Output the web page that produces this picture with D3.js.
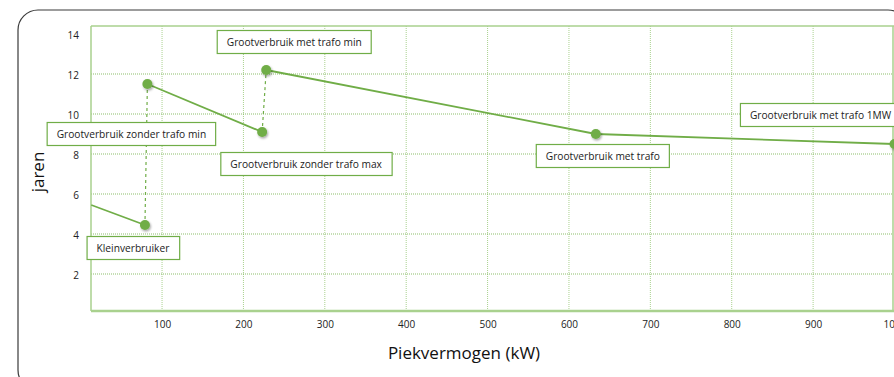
<!DOCTYPE html>
<html><head><meta charset="utf-8">
<script src="https://cdn.jsdelivr.net/npm/d3@7"></script>
<style>body{margin:0;background:#fff}svg{display:block}</style>
</head><body>
<svg id="c" width="894" height="377"></svg>
<script>
// ---- data ----
const powerKW = [13, 79, 82, 223, 228, 633, 1000];
const years   = [5.45, 4.45, 11.5, 9.1, 12.2, 9.0, 8.5];
const pointLabels = ["", "Kleinverbruiker", "Grootverbruik zonder trafo min", "Grootverbruik zonder trafo max",
  "Grootverbruik met trafo min", "Grootverbruik met trafo", "Grootverbruik met trafo 1MW"];
const segmentDashed = [false, true, false, true, false, false];
const xTicks = [100, 200, 300, 400, 500, 600, 700, 800, 900, 1000];
const yTicks = [2, 4, 6, 8, 10, 12, 14];
const xTitle = "Piekvermogen (kW)";
const yTitle = "jaren";

// ---- layout ----
const svg = d3.select("#c");
const W = 894, H = 377;
const plot = {l: 91, r: 893, t: 26, b: 311};
const x = d3.scaleLinear().domain([12.7, 1000]).range([plot.l, 894.5]);
const y = d3.scaleLinear().domain([0.15, 14.4]).range([plot.b, plot.t]);
const green = "#70AD47", light = "#A9D18E";
const font = "'Open Sans', sans-serif";

const defs = svg.append("defs");
const f = defs.append("filter").attr("id","sh").attr("x","-50%").attr("y","-50%").attr("width","200%").attr("height","200%");
f.append("feDropShadow").attr("dx",1).attr("dy",1.5).attr("stdDeviation",1.2).attr("flood-color","#000").attr("flood-opacity",0.35);
const clip = defs.append("clipPath").attr("id","pc");
clip.append("rect").attr("x",plot.l).attr("y",plot.t-10).attr("width",W-plot.l).attr("height",plot.b-plot.t+20);

// outer rounded frame
svg.append("rect").attr("x",18).attr("y",10).attr("width",890).attr("height",380).attr("rx",20)
  .attr("fill","#fff").attr("stroke","#3a3a3a").attr("stroke-width",1.2);

// grid
const g = svg.append("g");
g.selectAll(".vg").data(xTicks).join("line")
  .attr("x1",d=>x(d)).attr("x2",d=>x(d)).attr("y1",plot.t).attr("y2",plot.b)
  .attr("stroke",light).attr("stroke-width",1).attr("stroke-dasharray","1,1");
g.selectAll(".hg").data(yTicks.filter(d=>d<14)).join("line")
  .attr("x1",plot.l).attr("x2",plot.r).attr("y1",d=>y(d)).attr("y2",d=>y(d))
  .attr("stroke",green).attr("stroke-width",1).attr("stroke-dasharray","1,1").attr("opacity",0.8);

// plot border
g.append("line").attr("x1",plot.l).attr("x2",W).attr("y1",plot.t).attr("y2",plot.t).attr("stroke",light).attr("stroke-width",1.5);
g.append("line").attr("x1",plot.l).attr("x2",plot.l).attr("y1",plot.t).attr("y2",plot.b).attr("stroke",light).attr("stroke-width",1.5);
g.append("line").attr("x1",plot.r).attr("x2",plot.r).attr("y1",plot.t).attr("y2",plot.b).attr("stroke",light).attr("stroke-width",1.5);

// axes
const xAxis = svg.append("g").attr("transform",`translate(0,${plot.b})`)
  .call(d3.axisBottom(x).tickValues(xTicks).tickFormat(d3.format("d")).tickSize(0).tickPadding(10));
xAxis.select(".domain").attr("stroke",light).attr("stroke-width",2.5).attr("d",`M${plot.l},0H${W}`);
xAxis.selectAll("text").attr("font-family",font).attr("font-size",10).attr("fill","#222");

const yAxis = svg.append("g").attr("transform",`translate(${plot.l},0)`)
  .call(d3.axisLeft(y).tickValues(yTicks).tickSize(0).tickPadding(12));
yAxis.select(".domain").remove();
yAxis.selectAll("text").attr("font-family",font).attr("font-size",10).attr("fill","#222").attr("dy","0.45em");

svg.append("text").attr("x",464).attr("y",359).attr("text-anchor","middle")
  .attr("font-family",font).attr("font-size",17).attr("fill","#111").text(xTitle);
svg.append("text").attr("transform","translate(44,172) rotate(-90)").attr("text-anchor","middle")
  .attr("font-family",font).attr("font-size",17).attr("fill","#111").text(yTitle);

// line segments
const pts = powerKW.map((v,i)=>({x:v, y:years[i], label:pointLabels[i]}));
const segs = segmentDashed.map((d,i)=>({a:pts[i], b:pts[i+1], dashed:d}));
const lg = svg.append("g").attr("clip-path","url(#pc)");
lg.selectAll("line.s").data(segs).join("line")
  .attr("x1",d=>x(d.a.x)).attr("y1",d=>y(d.a.y)).attr("x2",d=>x(d.b.x)).attr("y2",d=>y(d.b.y))
  .attr("stroke",green).attr("stroke-width",d=>d.dashed?1.2:1.8)
  .attr("stroke-dasharray",d=>d.dashed?"3,3":null);

// markers
lg.selectAll("circle").data(pts.filter(p=>p.label)).join("circle")
  .attr("cx",d=>x(d.x)).attr("cy",d=>y(d.y)).attr("r",5)
  .attr("fill",green).attr("filter","url(#sh)");

// labels (placement offsets relative to their point)
const labelOffset = [[0,0],[-12,23],[-16,50],[44,32],[28,-28],[7,22],[-74,-29]];
const lab = svg.append("g");
pts.forEach((p,i)=>{
  if(!p.label) return;
  const cx = x(p.x)+labelOffset[i][0], cy = y(p.y)+labelOffset[i][1];
  const gg = lab.append("g");
  const t = gg.append("text").attr("x",cx).attr("y",cy).attr("dy","0.35em").attr("text-anchor","middle")
    .attr("font-family",font).attr("font-size",10.2).attr("fill","#222").text(p.label);
  const bb = t.node().getBBox();
  gg.insert("rect","text").attr("x",bb.x-9.5).attr("y",cy-11.5).attr("width",bb.width+19).attr("height",23)
    .attr("fill","#fff").attr("stroke",green).attr("stroke-width",1.2);
});
</script>
</body></html>
